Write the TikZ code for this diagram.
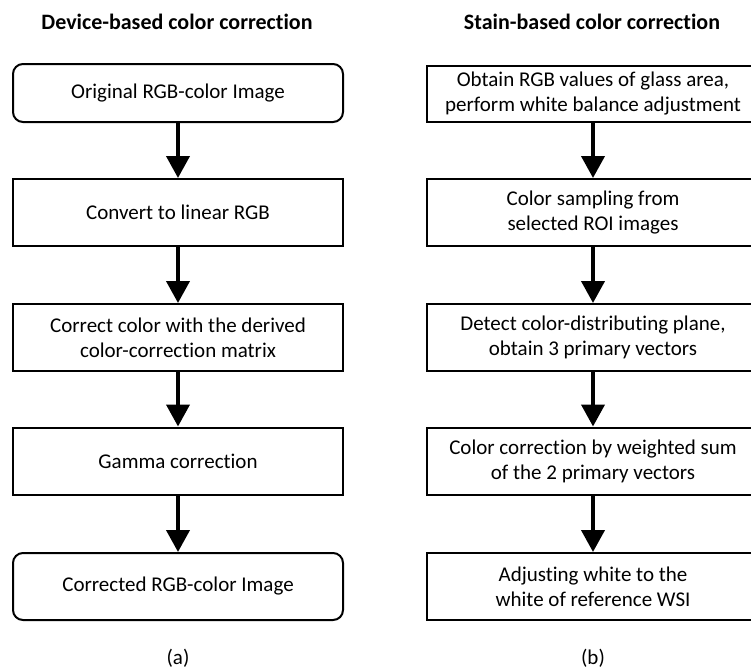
\documentclass[tikz,border=0pt]{standalone}
\usepackage{fontspec}
\setmainfont{Carlito}[Ligatures={NoCommon}]
\usepackage{tikz}
\usetikzlibrary{arrows.meta, positioning}
\tikzstyle{block} = [rectangle, draw, align=center, minimum height=67pt, minimum width=330pt]

\begin{document}
\begin{tikzpicture}[x=1pt, y=-1pt,
        block/.style={rectangle, draw, line width=2pt, align=center,
                     minimum height=67pt, inner sep=0pt,
                     font=\fontsize{21}{25}\selectfont},
        devblock/.style={block, minimum width=330pt},
        stainblock/.style={block, minimum width=332pt},
        endblock/.style={devblock, rounded corners=10pt},
        title/.style={font=\fontsize{22}{26}\selectfont\bfseries},
        caption/.style={font=\fontsize{21}{25}\selectfont},
        arrow/.style={-{Triangle[width=23pt, length=22pt]}, line width=4pt}
    ]
        \useasboundingbox (0,0) rectangle (751,669);
        \clip (0,0) rectangle (751,669);

        % Titles
        \node[title] (titledev) at (177,22) {Device-based color correction};
        \node[title] (titlestain) at (592,22) {Stain-based color correction};

        % Device-based path (left side)
        \node[endblock, minimum height=58pt] (original) at (178,93) {Original RGB-color Image};
        \node[devblock] (linear) at (178,212.5) {Convert to linear RGB};
        \node[devblock] (matrix) at (178,337.5) {Correct color with the derived\\color-correction matrix};
        \node[devblock] (gamma) at (178,461) {Gamma correction};
        \node[endblock] (corrected) at (178,586.5) {Corrected RGB-color Image};

        % Stain-based path (right side)
        \node[stainblock, minimum height=56pt] (glass) at (593,94) {Obtain RGB values of glass area,\\perform white balance adjustment};
        \node[stainblock] (sampling) at (593,212.5) {Color sampling from\\selected ROI images};
        \node[stainblock] (plane) at (593,337.5) {Detect color-distributing plane,\\obtain 3 primary vectors};
        \node[stainblock] (weighted) at (593,461) {Color correction by weighted sum\\of the 2 primary vectors};
        \node[stainblock] (white) at (593,586.5) {Adjusting white to the\\white of reference WSI};

        % Captions
        \node[caption] (capa) at (178,658) {(a)};
        \node[caption] (capb) at (593,658) {(b)};

        % Connections in device-based path
        \draw[arrow] (original) -- (linear);
        \draw[arrow] (linear) -- (matrix);
        \draw[arrow] (matrix) -- (gamma);
        \draw[arrow] (gamma) -- (corrected);

        % Connections in stain-based path
        \draw[arrow] (glass) -- (sampling);
        \draw[arrow] (sampling) -- (plane);
        \draw[arrow] (plane) -- (weighted);
        \draw[arrow] (weighted) -- (white);
    \end{tikzpicture}
\end{document}
